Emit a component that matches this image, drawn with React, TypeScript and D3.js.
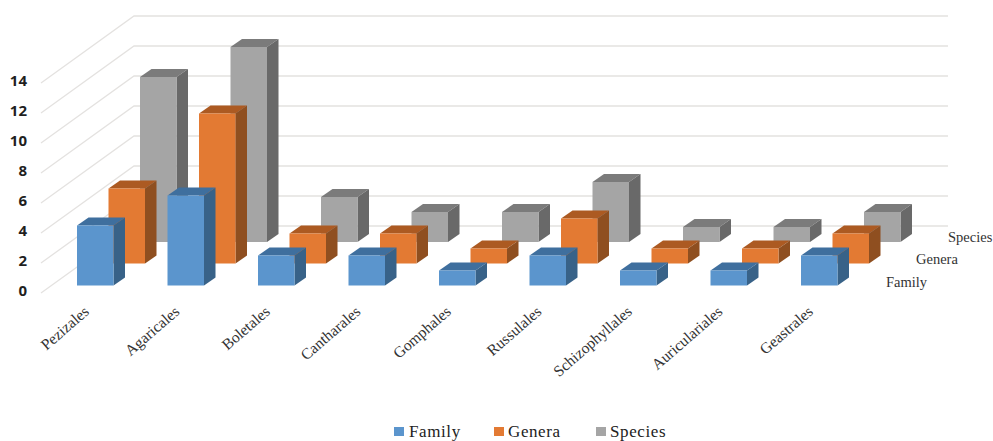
import React from "react";
import * as d3 from "d3";

const categories = ["Pezizales", "Agaricales", "Boletales", "Cantharales", "Gomphales", "Russulales", "Schizophyllales", "Auriculariales", "Geastrales"];
const family = [4, 6, 2, 2, 1, 2, 1, 1, 2];
const genera = [5, 10, 2, 2, 1, 3, 1, 1, 2];
const species = [11, 13, 3, 2, 2, 4, 1, 1, 2];
const seriesNames = ["Family", "Genera", "Species"];
const yTicks = [0, 2, 4, 6, 8, 10, 12, 14];

const W = 993;
const H = 441;
const BAR_W = 36.5;
const DEPTH_X = 11.5;
const DEPTH_Y = 8;

const faces = [
  { front: "#5b95cd", side: "#386288", top: "#3f6f9e" },
  { front: "#e37a33", side: "#8f4f20", top: "#ac5a22" },
  { front: "#a5a5a5", side: "#696969", top: "#7b7b7b" },
];
const seriesValues = [family, genera, species];

// Height of a value in pixels, shared by walls and bars.
const height = d3.scaleLinear().domain([0, 14]).range([0, 210]);
// Horizontal position of a category along the floor.
const catX = d3.scaleLinear().domain([0, 8]).range([0, 724]);
// Series depth: how far back each row sits on the floor.
const rowX = d3.scaleLinear().domain([0, 1, 2]).range([77, 108.5, 140]);
const rowY = d3.scaleLinear().domain([0, 1, 2]).range([285.5, 263.5, 242]);

// Wall gridlines: front edge on the left, back corner, then out to the right.
const wallFrontX = 41;
const wallBackX = 134;
const wallRightX = 948;
const wallFrontY = 293;
const wallBackY = 226;

const labelSerif = "'Liberation Serif', serif";

function Bar({ x, base, value, c }: { x: number; base: number; value: number; c: (typeof faces)[number] }) {
  const t = base - height(value);
  const r = x + BAR_W;
  return (
    <g>
      <polygon fill={c.top} points={`${x},${t} ${x + DEPTH_X},${t - DEPTH_Y} ${r + DEPTH_X},${t - DEPTH_Y} ${r},${t}`} />
      <polygon fill={c.side} points={`${r},${t} ${r + DEPTH_X},${t - DEPTH_Y} ${r + DEPTH_X},${base - DEPTH_Y} ${r},${base}`} />
      <rect x={x} y={t} width={BAR_W} height={base - t} fill={c.front} />
    </g>
  );
}

export default function App() {
  const legend = [
    { name: seriesNames[0], sx: 394, tx: 409, c: faces[0] },
    { name: seriesNames[1], sx: 494, tx: 508, c: faces[1] },
    { name: seriesNames[2], sx: 596, tx: 610, c: faces[2] },
  ];
  const depthLabels = [
    { name: seriesNames[2], x: 948, y: 242 },
    { name: seriesNames[1], x: 916, y: 264 },
    { name: seriesNames[0], x: 886, y: 287 },
  ];
  return (
    <svg width={W} height={H} viewBox={`0 0 ${W} ${H}`} style={{ position: "absolute", left: 0, top: 0, background: "#fff" }}>
      {yTicks.map((v) => {
        const h = height(v);
        return (
          <g key={v}>
            <polyline
              fill="none"
              stroke="#e4e2e0"
              strokeWidth={1.3}
              points={`${wallFrontX},${wallFrontY - h} ${wallBackX},${wallBackY - h} ${wallRightX},${wallBackY - h}`}
            />
            <text x={27} y={296 - h} textAnchor="end" fontFamily="'Open Sans', sans-serif" fontWeight={700} fontSize={15} fill="#1f1f1f">
              {v}
            </text>
          </g>
        );
      })}

      {[2, 1, 0].map((row) => (
        <g key={row}>
          {categories.map((cat, i) => (
            <Bar key={cat} x={rowX(row) + catX(i)} base={rowY(row)} value={seriesValues[row][i]} c={faces[row]} />
          ))}
        </g>
      ))}

      {categories.map((cat, i) => (
        <text
          key={cat}
          transform={`translate(${90 + catX(i)},${313}) rotate(-41)`}
          textAnchor="end"
          fontFamily={labelSerif}
          fontSize={15.5}
          fill="#333"
        >
          {cat}
        </text>
      ))}

      {depthLabels.map((d) => (
        <text key={d.name} x={d.x} y={d.y} fontFamily={labelSerif} fontSize={14.5} fill="#333">
          {d.name}
        </text>
      ))}

      {legend.map((l) => (
        <g key={l.name}>
          <rect x={l.sx} y={427} width={10} height={9} fill={l.c.front} />
          <text x={l.tx} y={437} fontFamily={labelSerif} fontSize={17} letterSpacing={0.6} fill="#222">
            {l.name}
          </text>
        </g>
      ))}
    </svg>
  );
}
